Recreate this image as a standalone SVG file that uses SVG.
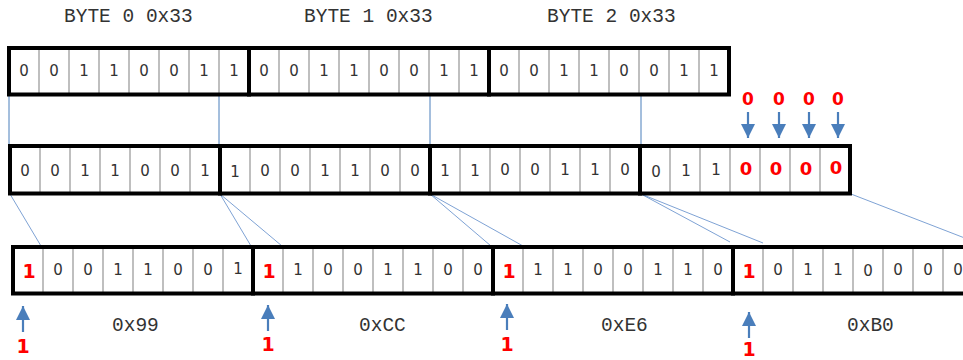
<svg xmlns="http://www.w3.org/2000/svg" width="963" height="360" viewBox="0 0 963 360">
<style>
.box{fill:none;stroke:#000;stroke-width:4}
.div{stroke:#bfbfbf;stroke-width:2;fill:none}
.d{font-family:"DejaVu Sans",Verdana,sans-serif;font-size:15px;fill:#333;text-anchor:middle}
.r{font-family:"DejaVu Sans",Verdana,sans-serif;font-weight:bold;fill:#ff0000;text-anchor:middle}
.lbl{font-family:"Liberation Mono","Courier New",monospace;font-size:19.5px;fill:#333}
.v{stroke:#4a7ebb;stroke-width:1;fill:none}
.dg{stroke:#6f97cf;stroke-width:0.9;fill:none}
.ar{stroke:#4a7ebb;stroke-width:2.2;fill:none}
</style>
<defs>
<marker id="ah" markerUnits="userSpaceOnUse" markerWidth="14" markerHeight="15" refX="14" refY="7" orient="auto">
<path d="M0,0 L14,7 L0,14 Z" fill="#4a7ebb"/>
</marker>
</defs>
<rect width="963" height="360" fill="#fff"/>

<g id="labels">
<text class="lbl" x="64" y="22" font-size="20">BYTE 0 0x33</text>
<text class="lbl" x="304" y="22" font-size="20">BYTE 1 0x33</text>
<text class="lbl" x="547" y="22" font-size="20">BYTE 2 0x33</text>
<text class="lbl" x="112" y="331">0x99</text>
<text class="lbl" x="359" y="331">0xCC</text>
<text class="lbl" x="601" y="331">0xE6</text>
<text class="lbl" x="847" y="331">0xB0</text>
</g>

<g id="connectors">
<path class="v" d="M9,96V146M219,96V146M430,96V146M641,96V146"/>
<path class="dg" d="M10,194L41,246M220,194L251,246M220,194L282,246M430,194L491,246M430,194L523,246M641,194L730,242M641,194L763,243M851,194L975,242"/>
</g>

<g id="top-byte0">
<path class="div" d="M39,48V95M69,48V95M99,48V95M129,48V95M159,48V95M189,48V95M219,48V95"/>
<rect class="box" x="9" y="48" width="240" height="46.5"/>
<text class="d" x="24" y="76">0</text><text class="d" x="54" y="76">0</text><text class="d" x="84" y="76">1</text><text class="d" x="114" y="76">1</text><text class="d" x="144" y="76">0</text><text class="d" x="174" y="76">0</text><text class="d" x="204" y="76">1</text><text class="d" x="234" y="76">1</text>
</g>
<g id="top-byte1">
<path class="div" d="M279,48V95M309,48V95M339,48V95M369,48V95M399,48V95M429,48V95M459,48V95"/>
<rect class="box" x="249" y="48" width="240" height="46.5"/>
<text class="d" x="264" y="76">0</text><text class="d" x="294" y="76">0</text><text class="d" x="324" y="76">1</text><text class="d" x="354" y="76">1</text><text class="d" x="384" y="76">0</text><text class="d" x="414" y="76">0</text><text class="d" x="444" y="76">1</text><text class="d" x="474" y="76">1</text>
</g>
<g id="top-byte2">
<path class="div" d="M519,48V95M549,48V95M579,48V95M609,48V95M639,48V95M669,48V95M699,48V95"/>
<rect class="box" x="489" y="48" width="240" height="46.5"/>
<text class="d" x="504" y="76">0</text><text class="d" x="534" y="76">0</text><text class="d" x="564" y="76">1</text><text class="d" x="594" y="76">1</text><text class="d" x="624" y="76">0</text><text class="d" x="654" y="76">0</text><text class="d" x="684" y="76">1</text><text class="d" x="714" y="76">1</text>
</g>

<g id="zero-fill">
<text class="r" x="748" y="105" font-size="17">0</text>
<text class="r" x="779" y="105" font-size="17">0</text>
<text class="r" x="809" y="105" font-size="17">0</text>
<text class="r" x="838" y="105" font-size="17">0</text>
<line class="ar" x1="748" y1="112" x2="748" y2="138" marker-end="url(#ah)"/>
<line class="ar" x1="779" y1="112" x2="779" y2="138" marker-end="url(#ah)"/>
<line class="ar" x1="809" y1="112" x2="809" y2="138" marker-end="url(#ah)"/>
<line class="ar" x1="838" y1="112" x2="838" y2="138" marker-end="url(#ah)"/>
</g>

<g id="mid-byte0">
<path class="div" d="M40,146V194M70,146V194M100,146V194M130,146V194M160,146V194M190,146V194"/>
<rect class="box" x="10" y="146" width="210" height="47.5"/>
<text class="d" x="25" y="176">0</text><text class="d" x="55" y="176">0</text><text class="d" x="85" y="176">1</text><text class="d" x="115" y="176">1</text><text class="d" x="145" y="176">0</text><text class="d" x="175" y="176">0</text><text class="d" x="205" y="176">1</text>
</g>
<g id="mid-byte1">
<path class="div" d="M250,146V194M280,146V194M310,146V194M340,146V194M370,146V194M400,146V194"/>
<rect class="box" x="220" y="146" width="210" height="47.5"/>
<text class="d" x="235" y="177">1</text><text class="d" x="265" y="176">0</text><text class="d" x="295" y="176">0</text><text class="d" x="325" y="176">1</text><text class="d" x="355" y="176">1</text><text class="d" x="385" y="176">0</text><text class="d" x="415" y="176">0</text>
</g>
<g id="mid-byte2">
<path class="div" d="M460,146V194M490,146V194M520,146V194M550,146V194M580,146V194M610,146V194"/>
<rect class="box" x="430" y="146" width="210" height="47.5"/>
<text class="d" x="445" y="176">1</text><text class="d" x="475" y="176">1</text><text class="d" x="505" y="175">0</text><text class="d" x="535" y="175">0</text><text class="d" x="565" y="175">1</text><text class="d" x="595" y="175">1</text><text class="d" x="625" y="175">0</text>
</g>
<g id="mid-byte3">
<path class="div" d="M670,146V194M700,146V194M730,146V194M760,146V194M790,146V194M820,146V194"/>
<rect class="box" x="640" y="146" width="210" height="47.5"/>
<text class="d" x="656" y="177">0</text><text class="d" x="686" y="176">1</text><text class="d" x="716" y="175">1</text>
<text class="r" x="746" y="175" font-size="18">0</text><text class="r" x="776" y="175" font-size="18">0</text><text class="r" x="806" y="175" font-size="18">0</text><text class="r" x="836" y="174" font-size="18">0</text>
</g>

<g id="bot-byte0">
<path class="div" d="M43,247V294M73,247V294M103,247V294M133,247V294M163,247V294M193,247V294M223,247V294"/>
<rect class="box" x="13" y="247" width="240" height="46.5"/>
<text class="r" x="29" y="278" font-size="19">1</text><text class="d" x="58" y="275">0</text><text class="d" x="88" y="275">0</text><text class="d" x="118" y="275">1</text><text class="d" x="148" y="275">1</text><text class="d" x="178" y="275">0</text><text class="d" x="208" y="275">0</text><text class="d" x="238" y="274">1</text>
</g>
<g id="bot-byte1">
<path class="div" d="M283,247V294M313,247V294M343,247V294M373,247V294M403,247V294M433,247V294M463,247V294"/>
<rect class="box" x="253" y="247" width="240" height="46.5"/>
<text class="r" x="269" y="278" font-size="19">1</text><text class="d" x="298" y="275">1</text><text class="d" x="328" y="275">0</text><text class="d" x="358" y="275">0</text><text class="d" x="388" y="275">1</text><text class="d" x="418" y="275">1</text><text class="d" x="448" y="275">0</text><text class="d" x="478" y="275">0</text>
</g>
<g id="bot-byte2">
<path class="div" d="M523,247V294M553,247V294M583,247V294M613,247V294M643,247V294M673,247V294M703,247V294"/>
<rect class="box" x="493" y="247" width="240" height="46.5"/>
<text class="r" x="509" y="278" font-size="19">1</text><text class="d" x="538" y="275">1</text><text class="d" x="568" y="275">1</text><text class="d" x="598" y="275">0</text><text class="d" x="628" y="275">0</text><text class="d" x="658" y="275">1</text><text class="d" x="688" y="275">1</text><text class="d" x="718" y="275">0</text>
</g>
<g id="bot-byte3">
<path class="div" d="M763,247V294M793,247V294M823,247V294M853,247V294M883,247V294M913,247V294M943,247V294"/>
<rect class="box" x="733" y="247" width="240" height="46.5"/>
<text class="r" x="749" y="278" font-size="19">1</text><text class="d" x="778" y="275">0</text><text class="d" x="808" y="275">1</text><text class="d" x="838" y="275">1</text><text class="d" x="868" y="276">0</text><text class="d" x="898" y="275">0</text><text class="d" x="928" y="275">0</text><text class="d" x="958" y="275">0</text>
</g>

<g id="carry-in">
<line class="ar" x1="23" y1="332" x2="23" y2="306" marker-end="url(#ah)"/>
<line class="ar" x1="268" y1="331" x2="268" y2="305" marker-end="url(#ah)"/>
<line class="ar" x1="507" y1="330" x2="507" y2="304" marker-end="url(#ah)"/>
<line class="ar" x1="749" y1="338" x2="749" y2="312" marker-end="url(#ah)"/>
<text class="r" x="23" y="353" font-size="19">1</text>
<text class="r" x="268" y="351" font-size="19">1</text>
<text class="r" x="507" y="351" font-size="19">1</text>
<text class="r" x="749" y="356" font-size="19">1</text>
</g>
</svg>
